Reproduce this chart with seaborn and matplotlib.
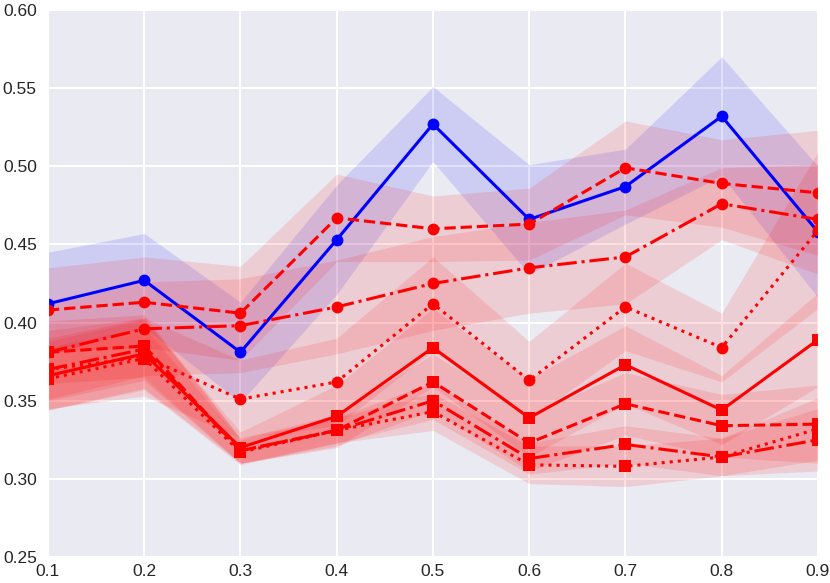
import numpy as np
import seaborn as sns
import matplotlib
matplotlib.use("Agg")
import matplotlib.pyplot as plt

# x positions
x = [0.1, 0.2, 0.3, 0.4, 0.5, 0.6, 0.7, 0.8, 0.9]

# blue series (circles, solid)
blue = [0.412, 0.427, 0.381, 0.453, 0.527, 0.466, 0.487, 0.532, 0.458]
blue_err = [0.033, 0.030, 0.032, 0.035, 0.024, 0.035, 0.024, 0.038, 0.042]

# red series with circle markers
c_dash = [0.408, 0.413, 0.406, 0.467, 0.460, 0.463, 0.499, 0.489, 0.483]
c_dash_err = [0.027, 0.029, 0.030, 0.028, 0.021, 0.023, 0.030, 0.028, 0.040]
c_dashdot = [0.381, 0.396, 0.398, 0.410, 0.425, 0.435, 0.442, 0.476, 0.466]
c_dashdot_err = [0.030, 0.030, 0.030, 0.030, 0.030, 0.029, 0.030, 0.023, 0.035]
c_dot = [0.370, 0.378, 0.351, 0.362, 0.412, 0.363, 0.410, 0.384, 0.459]
c_dot_err = [0.025, 0.025, 0.025, 0.028, 0.030, 0.025, 0.028, 0.022, 0.050]

# red series with square markers
s_solid = [0.366, 0.380, 0.320, 0.340, 0.384, 0.339, 0.373, 0.344, 0.389]
s_solid_err = [0.022, 0.022, 0.010, 0.020, 0.025, 0.025, 0.025, 0.022, 0.030]
s_dash = [0.381, 0.385, 0.318, 0.331, 0.362, 0.323, 0.348, 0.334, 0.335]
s_dash_err = [0.020, 0.020, 0.008, 0.010, 0.018, 0.018, 0.020, 0.020, 0.025]
s_dashdot = [0.370, 0.383, 0.318, 0.331, 0.350, 0.313, 0.322, 0.314, 0.325]
s_dashdot_err = [0.020, 0.020, 0.008, 0.008, 0.012, 0.010, 0.012, 0.012, 0.020]
s_dot = [0.364, 0.377, 0.317, 0.331, 0.343, 0.309, 0.308, 0.314, 0.332]
s_dot_err = [0.020, 0.020, 0.008, 0.008, 0.012, 0.012, 0.013, 0.012, 0.020]

y_ticks = [0.25, 0.30, 0.35, 0.40, 0.45, 0.50, 0.55, 0.60]

sns.set_style("darkgrid")
plt.rcParams['font.family'] = ['Liberation Sans', 'DejaVu Sans']

fig = plt.figure(figsize=(8.3, 5.83), dpi=100)
ax = fig.add_axes([0.0578, 0.0446, 0.9277, 0.9383])

series = [
    (blue, blue_err, 'blue', '-', 'o'),
    (c_dash, c_dash_err, 'red', '--', 'o'),
    (c_dashdot, c_dashdot_err, 'red', '-.', 'o'),
    (c_dot, c_dot_err, 'red', ':', 'o'),
    (s_solid, s_solid_err, 'red', '-', 's'),
    (s_dash, s_dash_err, 'red', '--', 's'),
    (s_dashdot, s_dashdot_err, 'red', '-.', 's'),
    (s_dot, s_dot_err, 'red', ':', 's'),
]

# bands first
for vals, err, col, ls, mk in series:
    v = np.array(vals)
    e = np.array(err)
    ax.fill_between(x, v - e, v + e, color=col, alpha=0.12, linewidth=0)

# lines
for vals, err, col, ls, mk in series:
    sns.lineplot(x=x, y=vals, ax=ax, color=col, linestyle=ls, marker=mk,
                 markersize=8.5 if mk == 'o' else 8, markeredgewidth=0,
                 linewidth=2.2)

ax.set_xlim(0.1, 0.9)
ax.set_ylim(0.25, 0.60)
ax.set_xticks(x)
ax.set_xticklabels([f"{v:.1f}" for v in x])
ax.set_yticks(y_ticks)
ax.set_yticklabels([f"{v:.2f}" for v in y_ticks])
ax.tick_params(axis='both', labelsize=12.5, length=0)
ax.tick_params(axis='y', pad=8)
ax.tick_params(axis='x', pad=5)
ax.grid(color='white', linewidth=1.5)
ax.set_xlabel('')
ax.set_ylabel('')

fig.savefig('out.png', dpi=100)
